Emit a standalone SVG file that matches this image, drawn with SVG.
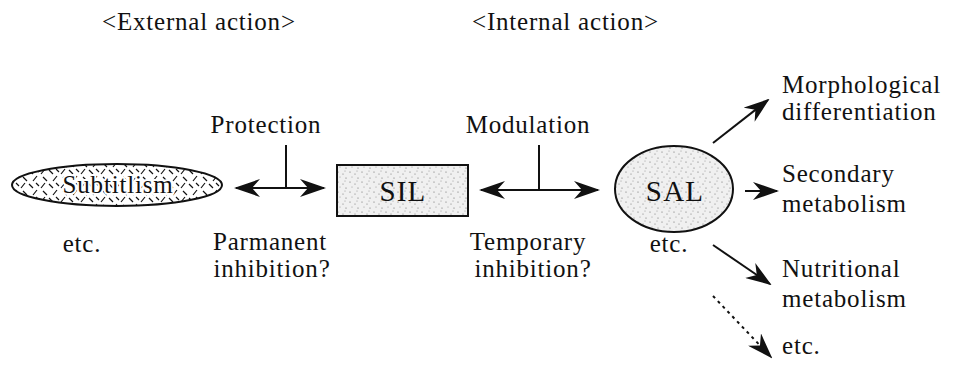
<svg xmlns="http://www.w3.org/2000/svg" width="954" height="369" viewBox="0 0 954 369">
<style>
  text { font-family: "Liberation Serif", "Times New Roman", serif; font-size: 25px; fill: #111; letter-spacing: 0.8px; }
  .big { font-size: 29px; letter-spacing: 1.2px; }
  .mid { text-anchor: middle; }
  .halo { stroke: #fff; stroke-width: 4px; paint-order: stroke; stroke-linejoin: round; }
  .line { stroke: #111; stroke-width: 2; fill: none; }
  .dot { stroke: #111; stroke-width: 2; fill: none; stroke-dasharray: 3 4; }
</style>
<defs>
  <marker id="ah" viewBox="0 0 26 18" refX="24" refY="9" markerWidth="26" markerHeight="18" markerUnits="userSpaceOnUse" orient="auto-start-reverse">
    <path d="M0,0 L26,9 L0,18 L8,9 Z" fill="#111"/>
  </marker>
  <pattern id="hatch" width="20" height="14" patternUnits="userSpaceOnUse">
    <rect width="20" height="14" fill="#fff"/>
    <path d="M1,6 L5,1 M9,2 L13,6 M13,13 L17,8 M3,9 L7,13 M16,1 L19,4" stroke="#111" stroke-width="1.2"/>
  </pattern>
  <pattern id="stip" width="12" height="10" patternUnits="userSpaceOnUse">
    <rect width="12" height="10" fill="#f0f0f0"/>
    <circle cx="2" cy="2" r="0.6" fill="#666"/>
    <circle cx="7" cy="4" r="0.6" fill="#777"/>
    <circle cx="10" cy="8" r="0.6" fill="#666"/>
    <circle cx="4" cy="7" r="0.5" fill="#888"/>
    <circle cx="9" cy="1" r="0.5" fill="#888"/>
  </pattern>
</defs>

<g id="headers">
  <text x="102" y="30">&lt;External action&gt;</text>
  <text x="472" y="30">&lt;Internal action&gt;</text>
</g>

<g id="subtitlism">
  <ellipse cx="117" cy="185" rx="105" ry="21" fill="url(#hatch)" stroke="#111" stroke-width="2"/>
  <text class="mid halo" x="118" y="193">Subtitlism</text>
  <text class="mid" x="82" y="252">etc.</text>
</g>

<g id="sil">
  <rect x="337" y="165" width="131" height="51" fill="url(#stip)" stroke="#111" stroke-width="2"/>
  <text class="big mid" x="403" y="201">SIL</text>
</g>

<g id="sal">
  <ellipse cx="674" cy="189" rx="59" ry="43" fill="url(#stip)" stroke="#111" stroke-width="2"/>
  <text class="big mid" x="675" y="201">SAL</text>
  <text class="mid" x="669" y="252">etc.</text>
</g>

<g id="labels">
  <text class="mid" x="266" y="133">Protection</text>
  <text class="mid" x="528" y="133">Modulation</text>
  <text class="mid" x="270" y="250">Parmanent</text>
  <text class="mid" x="272" y="277">inhibition?</text>
  <text class="mid" x="528" y="250">Temporary</text>
  <text class="mid" x="533" y="277">inhibition?</text>
  <text x="782" y="93">Morphological</text>
  <text x="782" y="120">differentiation</text>
  <text x="782" y="182">Secondary</text>
  <text x="782" y="212">metabolism</text>
  <text x="782" y="277">Nutritional</text>
  <text x="782" y="307">metabolism</text>
  <text x="782" y="354">etc.</text>
</g>

<g id="connectors">
  <line class="line" x1="236" y1="188" x2="324" y2="188" marker-start="url(#ah)" marker-end="url(#ah)"/>
  <line class="line" x1="286" y1="145" x2="286" y2="188"/>
  <line class="line" x1="481" y1="190" x2="598" y2="190" marker-start="url(#ah)" marker-end="url(#ah)"/>
  <line class="line" x1="539" y1="145" x2="539" y2="190"/>
  <line class="line" x1="713" y1="143" x2="768" y2="100" marker-end="url(#ah)"/>
  <line class="line" x1="745" y1="191" x2="777" y2="191" marker-end="url(#ah)"/>
  <line class="line" x1="713" y1="245" x2="770" y2="284" marker-end="url(#ah)"/>
  <line class="dot" x1="713" y1="296" x2="771" y2="357" marker-end="url(#ah)"/>
</g>
</svg>
